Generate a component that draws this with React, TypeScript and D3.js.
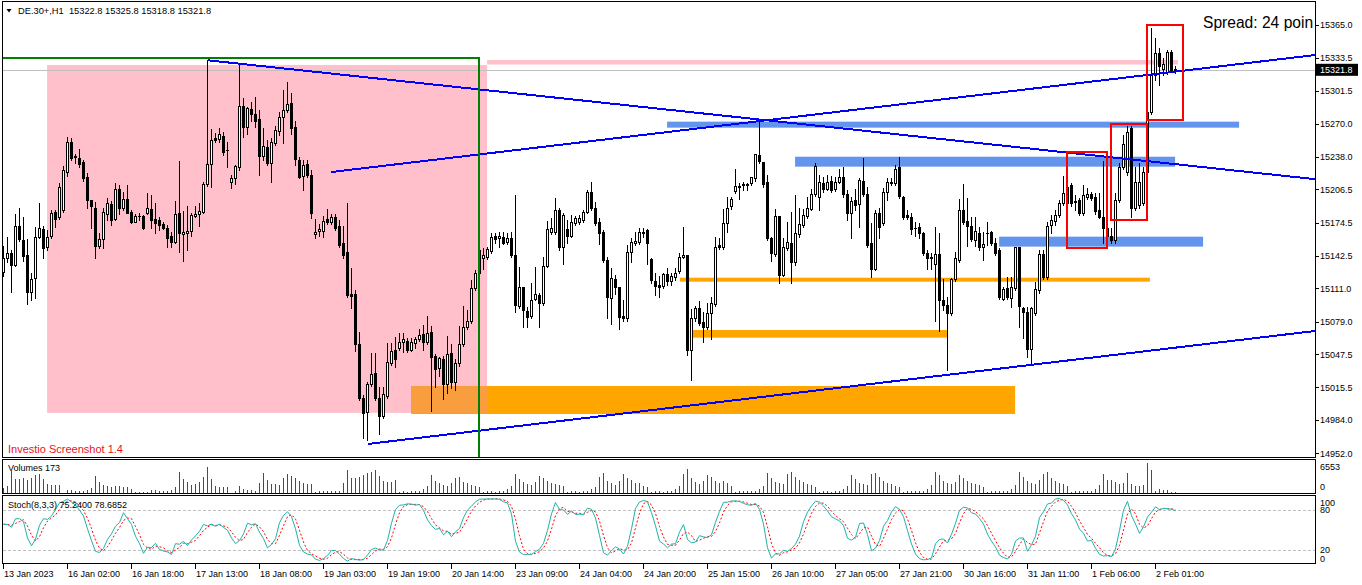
import * as d3 from 'd3';

const symbol = 'DE.30+,H1';
const lastQuote = [15322.8, 15325.8, 15318.8, 15321.8];
const bidPrice = 15321.8;
const spreadPoints = 24;

// H1 bars, [open, high, low, close]
const candles: [number, number, number, number][] = [
  [15127, 15152, 15123, 15140], [15140, 15161, 15136, 15145], [15145, 15148, 15108, 15134], [15134, 15183, 15133, 15171],
  [15171, 15189, 15157, 15159], [15158, 15180, 15137, 15142], [15143, 15159, 15096, 15108], [15108, 15126, 15100, 15120],
  [15121, 15170, 15102, 15161], [15161, 15193, 15160, 15169], [15168, 15171, 15140, 15150], [15151, 15167, 15148, 15161],
  [15162, 15187, 15160, 15184], [15185, 15187, 15170, 15178], [15180, 15213, 15178, 15209], [15187, 15229, 15185, 15225],
  [15223, 15257, 15219, 15252], [15252, 15256, 15235, 15237], [15239, 15241, 15232, 15238], [15237, 15245, 15228, 15231],
  [15233, 15235, 15215, 15217], [15218, 15222, 15189, 15196], [15196, 15196, 15169, 15190], [15189, 15194, 15140, 15152],
  [15152, 15164, 15150, 15159], [15159, 15189, 15150, 15185], [15183, 15198, 15177, 15193], [15192, 15195, 15172, 15177],
  [15178, 15213, 15177, 15207], [15207, 15211, 15183, 15189], [15189, 15204, 15187, 15197], [15197, 15211, 15184, 15184],
  [15185, 15187, 15174, 15175], [15175, 15183, 15175, 15181], [15181, 15184, 15177, 15181], [15181, 15182, 15168, 15169],
  [15184, 15203, 15183, 15189], [15188, 15201, 15169, 15177], [15178, 15193, 15164, 15174], [15177, 15180, 15167, 15172],
  [15173, 15175, 15168, 15169], [15169, 15172, 15151, 15160], [15162, 15165, 15151, 15156], [15156, 15195, 15155, 15183],
  [15184, 15234, 15146, 15164], [15163, 15186, 15137, 15165], [15164, 15190, 15148, 15166], [15166, 15184, 15162, 15182],
  [15181, 15190, 15180, 15183], [15183, 15193, 15171, 15186], [15185, 15214, 15184, 15212], [15212, 15331, 15210, 15231],
  [15231, 15265, 15209, 15254], [15256, 15261, 15252, 15254], [15255, 15266, 15252, 15260], [15258, 15262, 15240, 15243],
  [15244, 15252, 15228, 15244], [15214, 15220, 15208, 15217], [15217, 15230, 15212, 15229], [15228, 15327, 15225, 15287],
  [15287, 15295, 15257, 15267], [15267, 15286, 15260, 15285], [15284, 15291, 15272, 15279], [15279, 15296, 15267, 15272],
  [15274, 15283, 15220, 15239], [15239, 15266, 15235, 15248], [15247, 15254, 15230, 15232], [15232, 15256, 15214, 15252],
  [15251, 15268, 15249, 15264], [15263, 15281, 15259, 15276], [15276, 15302, 15251, 15283], [15283, 15310, 15281, 15289],
  [15290, 15299, 15260, 15266], [15267, 15272, 15230, 15236], [15235, 15238, 15217, 15218], [15219, 15235, 15206, 15230],
  [15231, 15235, 15218, 15220], [15220, 15225, 15179, 15184], [15163, 15178, 15160, 15165], [15166, 15173, 15162, 15168],
  [15166, 15181, 15161, 15176], [15178, 15188, 15173, 15175], [15175, 15183, 15173, 15180], [15180, 15183, 15167, 15169],
  [15171, 15177, 15151, 15153], [15155, 15171, 15140, 15143], [15146, 15193, 15103, 15105], [15106, 15131, 15092, 15104],
  [15106, 15109, 15051, 15057], [15057, 15069, 15003, 15005], [15005, 15008, 14967, 14991], [14992, 15021, 14965, 15019],
  [15019, 15049, 15017, 15028], [15029, 15049, 15003, 15005], [15005, 15016, 14971, 14988], [14988, 15016, 14986, 15009],
  [15007, 15058, 15005, 15040], [15039, 15058, 15037, 15051], [15052, 15064, 15035, 15043], [15054, 15068, 15052, 15059],
  [15059, 15068, 15050, 15062], [15060, 15063, 15050, 15052], [15052, 15063, 15051, 15059], [15058, 15064, 15054, 15062],
  [15062, 15072, 15060, 15066], [15067, 15076, 15052, 15059], [15059, 15084, 15057, 15068], [15069, 15075, 14993, 15045],
  [15046, 15048, 15016, 15033], [15034, 15045, 15027, 15044], [15043, 15046, 15004, 15019], [15019, 15065, 15010, 15048],
  [15049, 15057, 15015, 15021], [15021, 15043, 15013, 15039], [15039, 15075, 15036, 15057], [15057, 15094, 15055, 15074],
  [15074, 15090, 15072, 15080], [15080, 15119, 15078, 15111], [15111, 15129, 15109, 15126], [15126, 15151, 15114, 15148],
  [15140, 15150, 15130, 15143], [15141, 15151, 15139, 15149], [15147, 15164, 15145, 15161], [15162, 15164, 15155, 15159],
  [15160, 15165, 15151, 15162], [15161, 15165, 15154, 15155], [15156, 15164, 15154, 15160], [15160, 15165, 15141, 15143],
  [15143, 15201, 15088, 15095], [15094, 15132, 15092, 15112], [15112, 15112, 15074, 15090], [15089, 15093, 15074, 15083],
  [15084, 15116, 15082, 15100], [15101, 15132, 15100, 15106], [15105, 15107, 15074, 15097], [15097, 15141, 15095, 15133],
  [15133, 15176, 15132, 15168], [15165, 15179, 15163, 15169], [15165, 15198, 15163, 15187], [15187, 15189, 15148, 15151],
  [15151, 15184, 15135, 15182], [15168, 15177, 15155, 15162], [15162, 15182, 15161, 15175], [15174, 15181, 15172, 15179],
  [15175, 15182, 15173, 15179], [15177, 15187, 15175, 15185], [15185, 15206, 15184, 15204], [15204, 15214, 15187, 15189],
  [15189, 15194, 15172, 15174], [15175, 15179, 15154, 15164], [15165, 15167, 15136, 15138], [15138, 15141, 15082, 15103],
  [15102, 15131, 15077, 15121], [15120, 15124, 15106, 15112], [15112, 15112, 15072, 15083], [15084, 15100, 15080, 15082],
  [15082, 15153, 15080, 15146], [15146, 15160, 15136, 15156], [15155, 15165, 15153, 15157], [15156, 15169, 15154, 15165],
  [15164, 15169, 15161, 15165], [15167, 15168, 15135, 15155], [15139, 15140, 15116, 15119], [15118, 15126, 15105, 15113],
  [15114, 15123, 15103, 15112], [15113, 15126, 15111, 15125], [15125, 15131, 15114, 15118], [15118, 15126, 15114, 15123],
  [15122, 15131, 15119, 15126], [15128, 15145, 15126, 15141], [15141, 15170, 15140, 15143], [15143, 15143, 15047, 15052],
  [15052, 15091, 15023, 15082], [15082, 15094, 15080, 15092], [15092, 15099, 15076, 15078], [15079, 15088, 15059, 15074],
  [15074, 15097, 15072, 15087], [15087, 15103, 15062, 15097], [15096, 15161, 15094, 15151], [15153, 15160, 15149, 15151],
  [15151, 15188, 15149, 15174], [15174, 15199, 15165, 15189], [15190, 15199, 15188, 15197], [15205, 15226, 15203, 15210],
  [15209, 15213, 15197, 15210], [15211, 15214, 15206, 15212], [15212, 15213, 15206, 15211], [15213, 15218, 15211, 15218],
  [15217, 15241, 15215, 15241], [15240, 15271, 15232, 15234], [15233, 15233, 15209, 15212], [15214, 15220, 15158, 15160],
  [15160, 15161, 15137, 15145], [15144, 15188, 15142, 15181], [15181, 15181, 15116, 15124], [15124, 15160, 15123, 15151],
  [15150, 15175, 15148, 15156], [15155, 15185, 15116, 15136], [15136, 15201, 15134, 15164], [15163, 15189, 15161, 15173],
  [15172, 15188, 15170, 15182], [15181, 15199, 15179, 15189], [15188, 15207, 15187, 15202], [15202, 15232, 15200, 15229],
  [15199, 15220, 15187, 15214], [15213, 15218, 15204, 15207], [15207, 15220, 15206, 15214], [15215, 15219, 15204, 15206],
  [15207, 15218, 15205, 15214], [15214, 15226, 15213, 15218], [15218, 15228, 15199, 15202], [15202, 15206, 15177, 15184],
  [15184, 15199, 15160, 15195], [15196, 15207, 15187, 15191], [15192, 15217, 15170, 15216], [15215, 15237, 15200, 15202],
  [15202, 15209, 15151, 15153], [15155, 15174, 15122, 15130], [15130, 15187, 15129, 15184], [15184, 15189, 15160, 15170],
  [15174, 15208, 15172, 15204], [15204, 15217, 15196, 15214], [15213, 15217, 15211, 15214], [15213, 15230, 15211, 15226],
  [15228, 15238, 15198, 15200], [15199, 15200, 15178, 15180], [15182, 15187, 15178, 15180], [15180, 15184, 15163, 15168],
  [15169, 15175, 15162, 15169], [15170, 15174, 15160, 15164], [15164, 15165, 15143, 15145], [15145, 15148, 15130, 15140],
  [15141, 15145, 15130, 15140], [15135, 15170, 15080, 15144], [15144, 15164, 15070, 15100], [15100, 15120, 15090, 15095],
  [15095, 15103, 15032, 15087], [15087, 15121, 15085, 15120], [15120, 15146, 15118, 15140], [15138, 15197, 15136, 15187],
  [15187, 15212, 15173, 15175], [15176, 15198, 15152, 15171], [15171, 15180, 15157, 15159], [15158, 15180, 15152, 15166],
  [15164, 15170, 15148, 15151], [15151, 15165, 15138, 15154], [15164, 15175, 15153, 15164], [15165, 15166, 15153, 15155],
  [15155, 15160, 15143, 15145], [15148, 15150, 15101, 15103], [15101, 15112, 15100, 15110], [15111, 15122, 15101, 15103],
  [15102, 15122, 15093, 15112], [15111, 15151, 15109, 15151], [15151, 15151, 15074, 15094], [15092, 15093, 15063, 15088],
  [15088, 15093, 15045, 15053], [15053, 15093, 15037, 15092], [15087, 15117, 15085, 15110], [15109, 15148, 15107, 15144],
  [15144, 15148, 15120, 15122], [15122, 15175, 15120, 15171], [15172, 15182, 15164, 15177], [15176, 15187, 15172, 15182],
  [15182, 15196, 15180, 15193], [15193, 15219, 15191, 15203], [15193, 15243, 15191, 15209], [15211, 15213, 15190, 15193],
  [15195, 15201, 15187, 15194], [15196, 15198, 15182, 15184], [15184, 15211, 15182, 15201], [15199, 15208, 15197, 15202],
  [15202, 15204, 15196, 15198], [15199, 15203, 15183, 15186], [15187, 15203, 15179, 15180], [15180, 15234, 15155, 15169],
  [15169, 15177, 15157, 15162], [15162, 15169, 15155, 15158], [15158, 15203, 15155, 15196], [15196, 15232, 15194, 15228],
  [15228, 15259, 15226, 15250], [15223, 15268, 15220, 15262], [15266, 15268, 15180, 15189], [15189, 15228, 15187, 15214],
  [15191, 15232, 15189, 15214], [15193, 15228, 15191, 15223], [15223, 15283, 15220, 15281], [15281, 15362, 15279, 15317],
  [15317, 15352, 15312, 15338], [15338, 15343, 15307, 15325], [15323, 15333, 15317, 15327], [15320, 15341, 15318, 15339],
  [15339, 15341, 15320, 15322], [15322.8, 15325.8, 15318.8, 15321.8],
];

// tick volume per bar
const volumes: number[] = [
  1190, 1490, 4840, 3050, 3000, 3200, 2830, 3200, 3950, 4170, 3050, 1940, 1860, 1710, 1700, 75,
  600, 590, 370, 360, 350, 600, 1190, 3730, 2460, 1710, 1490, 1340, 1490, 1480, 1400, 1350, 820, 150, 180, 220, 210,
  750, 700, 460, 380, 420, 740, 1340, 4620, 3050, 2460, 1710, 2090, 2460, 3580, 5810, 3050, 1560, 1340, 1400, 1340, 75,
  370, 1490, 970, 600, 580, 370, 2310, 4470, 2830, 2090, 1940, 1860, 3350, 4170, 3800, 3200, 2680, 2240, 2090, 2080, 220,
  370, 360, 380, 370, 360, 380, 2310, 5070, 3400, 3300, 3500, 3950, 4320, 4620, 5070, 3800, 2680, 2500, 2460, 2830, 200,
  360, 300, 420, 380, 450, 900, 1500, 3900, 2600, 2200, 1700, 1500, 2300, 3300, 3600, 2500, 2100, 1800, 1600, 1300, 150,
  500, 380, 300, 340, 420, 800, 1600, 4300, 3100, 2400, 2000, 1700, 2500, 3700, 3300, 2600, 2200, 1900, 1700, 1500, 160,
  420, 360, 300, 350, 450, 850, 1400, 3600, 4400, 2700, 2100, 1800, 2600, 4200, 3400, 2800, 2300, 2100, 1600, 1400, 180,
  450, 380, 330, 360, 480, 900, 1500, 4100, 5200, 3300, 2500, 2000, 2700, 4000, 3500, 2700, 2200, 2600, 2300, 1500, 170,
  480, 400, 340, 380, 500, 900, 1600, 4500, 3200, 2500, 2100, 1900, 4300, 4600, 3500, 2800, 2400, 2000, 1700, 1400, 190,
  460, 380, 330, 360, 460, 850, 1500, 4000, 3000, 2300, 1900, 1800, 4100, 4400, 3600, 2700, 2300, 1900, 1600, 1300, 160,
  500, 420, 360, 380, 480, 900, 1700, 4700, 3900, 2600, 2100, 1900, 2500, 3900, 3400, 2700, 2200, 1900, 1700, 1400, 170,
  480, 400, 350, 380, 470, 900, 1700, 4600, 3600, 2700, 2200, 2000, 2800, 4300, 4700, 3200, 2600, 2200, 1900, 1600, 180,
  500, 420, 360, 380, 480, 900, 1700, 4170, 2830, 2800, 2460, 1940, 2310, 4470, 2090, 1490, 1460, 1710, 6553, 5000,
  370, 970, 600, 590, 140, 173,
];

const timeLabels = [
  '13 Jan 2023', '16 Jan 02:00', '16 Jan 18:00', '17 Jan 13:00', '18 Jan 08:00', '19 Jan 03:00', '19 Jan 19:00',
  '20 Jan 14:00', '23 Jan 09:00', '24 Jan 04:00', '24 Jan 20:00', '25 Jan 15:00', '26 Jan 10:00', '27 Jan 05:00',
  '27 Jan 21:00', '30 Jan 16:00', '31 Jan 11:00', '1 Feb 06:00', '2 Feb 01:00',
];
const labelEvery = 16;

const priceTicks = [15365.0, 15333.5, 15301.5, 15270.0, 15238.0, 15206.5, 15174.5, 15142.5, 15111.0, 15079.0, 15047.5, 15015.5, 14984.0, 14952.0];
const volumeTicks = [6553, 0];
const stochTicks = [100, 80, 20, 0];
const stochLevels = [80, 20];
const stochShown = [75.24, 78.6852];

// objects on the chart, anchored to bar index and price
const pinkZone = { from: 10.9, to: 120.9, top: 15326.4, bottom: 14991 };
const fills = [
  pinkZone,
  { from: 120.9, to: 293.6, top: 15331.2, bottom: 15326.9, color: '#FFC0CB' },
  { from: 101.9, to: 252.9, top: 15016.9, bottom: 14989.9, color: '#FFA500' },
  { from: 169.1, to: 286.6, top: 15121.3, bottom: 15117.5, color: '#FFA500' },
  { from: 171.6, to: 235.9, top: 15070.9, bottom: 15063.5, color: '#FFA500' },
  { from: 165.9, to: 308.9, top: 15271.8, bottom: 15266.0, color: '#6495ED' },
  { from: 197.9, to: 292.9, top: 15238.0, bottom: 15228.4, color: '#6495ED' },
  { from: 248.9, to: 299.9, top: 15160.9, bottom: 15151.3, color: '#6495ED' },
].map((f: any) => ({ color: '#FFC0CB', ...f }));
const greenBox = { from: -10, to: 118.8, top: 15333.4, bottom: 14900 };
const redBoxes = [
  { from: 265.9, to: 275.9, top: 15242.5, bottom: 15149.9 },
  { from: 276.9, to: 285.9, top: 15269.5, bottom: 15177.0 },
  { from: 285.9, to: 294.9, top: 15365.0, bottom: 15273.4 },
];
const trendLines: [number, number][][] = [
  [[51, 15331], [328, 15216.3]],
  [[81.9, 15223.2], [328, 15336.1]],
  [[91.1, 14961], [328, 15070]],
];

// Stochastic (8,3,3) from the bars
function stochastic(kPeriod: number, dPeriod: number, slowing: number) {
  const lo: number[] = [];
  const hi: number[] = [];
  candles.forEach((_, i) => {
    const win = candles.slice(Math.max(0, i - kPeriod + 1), i + 1);
    lo.push(d3.min(win, c => c[2]) as number);
    hi.push(d3.max(win, c => c[1]) as number);
  });
  const k = candles.map((_, i) => {
    let num = 0, den = 0;
    for (let j = Math.max(0, i - slowing + 1); j <= i; j++) {
      num += candles[j][3] - lo[j];
      den += hi[j] - lo[j];
    }
    return den ? (100 * num) / den : 50;
  });
  const d = k.map((_, i) => d3.mean(k.slice(Math.max(0, i - dPeriod + 1), i + 1)) as number);
  return { k, d };
}

const font = "'Liberation Sans', Arial, sans-serif";
const left = 2.5;
const right = 1315.5;
const mainP = { top: 1.5, bottom: 457.5 };
const volP = { top: 459.5, bottom: 493.5 };
const stP = { top: 495.5, bottom: 563.5 };

export default function App() {
  const x = d3.scaleLinear().domain([0, 1]).range([3.5, 7.5]);
  const y = d3.scaleLinear().domain([14952, 15365]).range([453.3, 25]);
  const yVol = d3.scaleLinear().domain([0, 6553]).range([493, 463.3]);
  const yStoch = d3.scaleLinear().domain([0, 100]).range([563.3, 496.7]);
  const { k, d } = stochastic(8, 3, 3);

  const line = d3.line<number>().x((_, i) => x(i)).y(v => yStoch(v));
  const clamp = (v: number, lo: number, hi: number) => Math.max(lo, Math.min(hi, v));
  const snap = (v: number) => Math.round(v) + 0.5;

  const rectOf = (r: { from: number; to: number; top: number; bottom: number }) => ({
    x: x(r.from), y: y(r.top), width: x(r.to) - x(r.from), height: y(r.bottom) - y(r.top),
  });

  const orange = fills[2];
  const ov = {
    from: Math.max(pinkZone.from, orange.from), to: Math.min(pinkZone.to, orange.to),
    top: Math.min(pinkZone.top, orange.top), bottom: Math.max(pinkZone.bottom, orange.bottom),
  };

  const last = candles.length - 1;
  const txt = { fontFamily: font, fontSize: 9, fill: '#000' };
  // the spread label runs into the price scale and is cut there
  const spreadText = `Spread: ${spreadPoints} points`.slice(0, 15);

  return (
    <svg width={1362} height={585} style={{ position: 'absolute', left: 0, top: 0, background: '#fff' }}>
      <defs>
        <clipPath id="mainClip">
          <rect x={3} y={2} width={1312} height={455} />
        </clipPath>
        <clipPath id="volClip">
          <rect x={3} y={460} width={1312} height={33} />
        </clipPath>
        <clipPath id="stClip">
          <rect x={3} y={496} width={1312} height={67} />
        </clipPath>
      </defs>
      <rect width={1362} height={585} fill="#fff" />

      <g clipPath="url(#mainClip)">
        {fills.map((f, i) => <rect key={i} {...rectOf(f)} fill={f.color} />)}
        <rect {...rectOf(ov)} fill="#F99E3E" />
        <line x1={left} x2={right} y1={snap(y(bidPrice))} y2={snap(y(bidPrice))} stroke="#C0C0C0" />

        {candles.map(([o, h, l, c], i) => {
          const cx = x(i);
          const up = c >= o;
          const top = Math.round(y(Math.max(o, c)));
          const bot = Math.round(y(Math.min(o, c)));
          return (
            <g key={i} shapeRendering="crispEdges">
              <line x1={cx} x2={cx} y1={Math.round(y(h))} y2={Math.round(y(l)) + 1} stroke="#000" />
              {bot - top < 1 ? (
                <line x1={cx - 1.5} x2={cx + 1.5} y1={top + 0.5} y2={top + 0.5} stroke="#000" />
              ) : (
                <rect x={cx - 1} y={top + 0.5} width={2} height={bot - top} fill={up ? '#fff' : '#000'} stroke="#000" />
              )}
            </g>
          );
        })}

        {trendLines.map((t, i) => (
          <line key={i} x1={x(t[0][0])} y1={y(t[0][1])} x2={x(t[1][0])} y2={y(t[1][1])}
            stroke="#0000FF" strokeWidth={2} shapeRendering="crispEdges" />
        ))}
        {redBoxes.map((r, i) => (
          <rect key={i} {...rectOf(r)} fill="none" stroke="#FF0000" strokeWidth={2} shapeRendering="crispEdges" />
        ))}
        <rect {...rectOf(greenBox)} fill="none" stroke="#008000" strokeWidth={2} shapeRendering="crispEdges" />

        <text x={1203} y={28} fontFamily={font} fontSize={15.6} fill="#000">{spreadText}</text>
        <text x={8} y={453} fontFamily={font} fontSize={11} fill="#E8101A">Investio Screenshot 1.4</text>
      </g>

      {/* header */}
      <polygon points="6.5,9 11.5,9 9,12.5" fill="#000" />
      <text x={18} y={14} {...txt} fontSize={9.3} xmlSpace="preserve" style={{ whiteSpace: 'pre' }}>
        {`${symbol}  ${lastQuote.map(v => v.toFixed(1)).join(' ')}`}
      </text>

      {/* panel frames */}
      <g fill="none" stroke="#000" shapeRendering="crispEdges">
        <rect x={left} y={mainP.top} width={right - left} height={mainP.bottom - mainP.top} />
        <rect x={left} y={volP.top} width={right - left} height={volP.bottom - volP.top} />
        <rect x={left} y={stP.top} width={right - left} height={stP.bottom - stP.top} />
      </g>

      {/* price axis */}
      {priceTicks.map(p => (
        <g key={p}>
          <line x1={right} x2={right + 3} y1={snap(y(p))} y2={snap(y(p))} stroke="#000" shapeRendering="crispEdges" />
          <text x={1320} y={y(p) + 3.3} {...txt}>{p.toFixed(1)}</text>
        </g>
      ))}
      <rect x={1316} y={y(bidPrice) - 6} width={42} height={12} fill="#000" />
      <text x={1320} y={y(bidPrice) + 3.3} {...txt} fill="#fff">{bidPrice.toFixed(1)}</text>

      {/* volumes */}
      <g clipPath="url(#volClip)" shapeRendering="crispEdges">
        {volumes.map((v, i) => (
          <line key={i} x1={x(i)} x2={x(i)} y1={yVol(0)} y2={Math.round(yVol(v))}
            stroke={i > 0 && v > volumes[i - 1] ? '#008000' : '#FF0000'} />
        ))}
      </g>
      <text x={8} y={471} {...txt}>Volumes {volumes[last]}</text>
      {volumeTicks.map(v => (
        <text key={v} x={1320} y={clamp(yVol(v), volP.top + 7, volP.bottom - 7) + 3.3} {...txt}>{v}</text>
      ))}

      {/* stochastic */}
      <g clipPath="url(#stClip)">
        {stochLevels.map(v => (
          <line key={v} x1={left} x2={right} y1={snap(yStoch(v))} y2={snap(yStoch(v))}
            stroke="#C0C0C0" strokeDasharray="3,2" shapeRendering="crispEdges" />
        ))}
        <path d={line(d) || ''} fill="none" stroke="#FF0000" strokeDasharray="2,2" />
        <path d={line(k) || ''} fill="none" stroke="#20B2AA" />
      </g>
      <text x={8} y={508} {...txt}>Stoch(8,3,3) {stochShown[0].toFixed(4)} {stochShown[1].toFixed(4)}</text>
      {stochTicks.map(v => (
        <text key={v} x={1320} y={clamp(yStoch(v), stP.top + 7, stP.bottom - 5) + 3.3} {...txt}>{v}</text>
      ))}

      {/* time axis */}
      {timeLabels.map((t, i) => {
        const tx = x(i * labelEvery);
        return (
          <g key={t}>
            <line x1={tx} x2={tx} y1={stP.bottom} y2={stP.bottom + 5} stroke="#000" shapeRendering="crispEdges" />
            <text x={tx + 0.5} y={577} {...txt}>{t}</text>
          </g>
        );
      })}
    </svg>
  );
}
